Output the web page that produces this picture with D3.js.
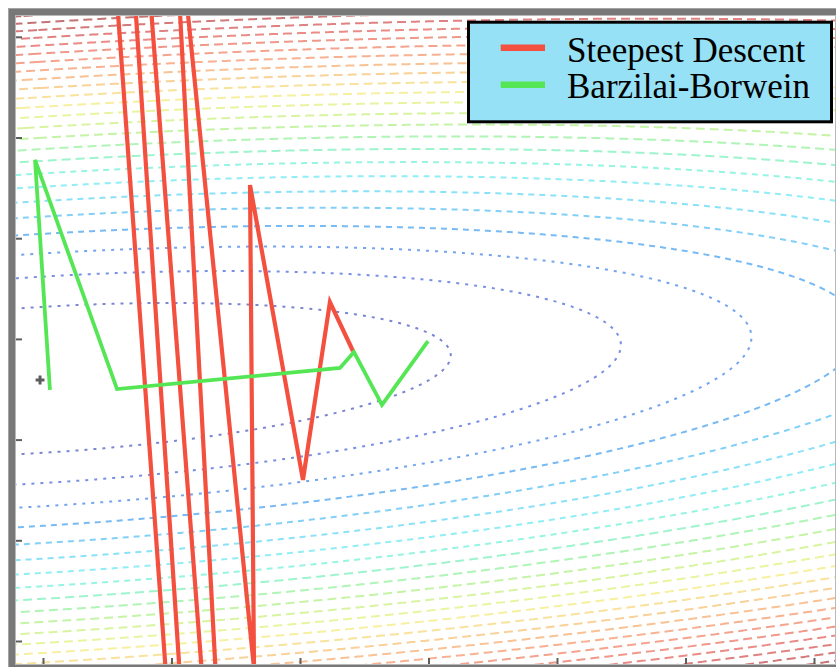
<!DOCTYPE html>
<html>
<head>
<meta charset="utf-8">
<script src="https://cdn.jsdelivr.net/npm/d3@7"></script>
<style>
  html, body { margin: 0; padding: 0; background: #fff; overflow: hidden; }
  svg { display: block; }
</style>
</head>
<body>
<svg id="chart" width="836" height="667"></svg>
<script>
// Objective: f(p) = 1/2 (p - p*)^T H (p - p*)
const minimizer = [-0.023, 2.592];
const hessianRow1 = [0.218, -0.291];
const hessianRow2 = [-0.291, 3.806];

// Level values of the drawn contours
const contourLevels = [1, 2, 3, 4, 5, 6, 7, 8, 9, 10, 11, 12, 13,
                       14, 15, 16, 17, 18, 19, 20, 21, 22, 23, 24, 25, 26];

// Axis tick values (no labels are printed)
const xTickValues = [0, 1, 2, 3, 4, 5, 6];
const yTickValues = [0, 1, 2, 3, 4, 5, 6];

// Iterates of the fixed-step steepest descent run
const steepestX = [2.412, 2.233, 2.023, 1.611, 1.642, 0.996, 1.603, -0.078, 2.241, -0.553];
const steepestY = [2.880, 3.366, 1.599, 4.528, -0.268, 7.895, -6.425, 21.599, -22.909, 26.226];

// Iterates of the Barzilai-Borwein run
const bbX = [2.996, 2.638, 2.420, 2.311, 0.576, -0.062, 0.054];
const bbY = [2.979, 2.344, 2.870, 2.711, 2.502, 4.777, 2.493];

const seriesNames = ["Steepest Descent", "Barzilai-Borwein"];

// ---------------------------------------------------------------------
const W = 836, H = 667;
const plot = { left: 16, top: 16, right: 835, bottom: 664 };

const x = d3.scaleLinear().domain([-0.2101, 6.1634]).range([plot.left, plot.right]);
const y = d3.scaleLinear().domain([-0.2284, 6.2066]).range([plot.bottom, plot.top]);

const svg = d3.select("#chart");

svg.append("defs").append("clipPath").attr("id", "plotClip")
  .append("rect")
  .attr("x", plot.left).attr("y", plot.top)
  .attr("width", plot.right - plot.left).attr("height", plot.bottom - plot.top);

svg.append("rect").attr("width", W).attr("height", H).attr("fill", "#fff");

// ---- contour field --------------------------------------------------
function objective(px, py) {
  const dx = px - minimizer[0], dy = py - minimizer[1];
  return 0.5 * (hessianRow1[0] * dx * dx + 2 * hessianRow1[1] * dx * dy + hessianRow2[1] * dy * dy);
}

const step = 2, margin = 8;
const gx0 = plot.left - margin, gy0 = plot.top - margin;
const nx = Math.ceil((plot.right - plot.left + 2 * margin) / step) + 1;
const ny = Math.ceil((plot.bottom - plot.top + 2 * margin) / step) + 1;
const grid = new Float64Array(nx * ny);
for (let j = 0; j < ny; j++) {
  const vy = y.invert(gy0 + j * step);
  for (let i = 0; i < nx; i++) {
    grid[i + j * nx] = objective(x.invert(gx0 + i * step), vy);
  }
}

const contourGen = d3.contours().size([nx, ny]).thresholds(contourLevels);
const gridToScreen = d3.geoTransform({
  point(gx, gy) {
    this.stream.point(gx0 + (gx - 0.5) * step, gy0 + (gy - 0.5) * step);
  }
});
const contourPath = d3.geoPath(gridToScreen);

const levelColor = d3.scaleLinear()
  .domain([1, 2, 3, 4, 5, 6, 7, 8, 9, 10, 11, 12, 13, 14, 15, 16, 17, 18, 19, 20, 21, 22, 23, 24, 25])
  .range(["#7a86d2", "#7890e4", "#74a4ee", "#78baf4", "#82d0f8", "#8ae2f8", "#90eef4",
          "#96f4e2", "#9ef4cc", "#b0f4b6", "#c4f4a6", "#d8f4a0", "#eaf4a0", "#f6f0a0",
          "#f8e29c", "#f8d298", "#f8c294", "#f8b292", "#f4a48e", "#f0988a", "#ea8c86",
          "#e08282", "#d47a7a", "#c47272", "#b86c6c"])
  .clamp(true);

// inner levels are dotted, outer ones broken into longer dashes
const dashFor = v => v <= 3 ? "3 6" : v <= 8 ? "6 5" : "9 5";

svg.append("g").attr("clip-path", "url(#plotClip)")
  .selectAll("path")
  .data(contourGen(grid))
  .join("path")
  .attr("d", contourPath)
  .attr("fill", "none")
  .attr("stroke", d => levelColor(d.value))
  .attr("stroke-width", 2)
  .attr("stroke-dasharray", d => dashFor(d.value));

// ---- optimisation paths ---------------------------------------------
const line = d3.line().x(d => x(d[0])).y(d => y(d[1]));
const steepestPts = steepestX.map((v, i) => [v, steepestY[i]]);
const bbPts = bbX.map((v, i) => [v, bbY[i]]);

const paths = svg.append("g").attr("clip-path", "url(#plotClip)");
paths.append("path")
  .attr("d", line(steepestPts))
  .attr("fill", "none")
  .attr("stroke", "#f4503f")
  .attr("stroke-width", 4.2)
  .attr("stroke-linejoin", "miter");
paths.append("path")
  .attr("d", line(bbPts))
  .attr("fill", "none")
  .attr("stroke", "#55e655")
  .attr("stroke-width", 3.8)
  .attr("stroke-linejoin", "miter");

// minimiser marker
paths.append("path")
  .attr("d", d3.symbol(d3.symbolCross, 44)())
  .attr("transform", `translate(${x(minimizer[0])},${y(minimizer[1])})`)
  .attr("fill", "#5c5c5c");

// ---- frame ----------------------------------------------------------
const band = 8;
svg.append("path")
  .attr("fill-rule", "evenodd")
  .attr("fill", "#787878")
  .attr("d",
    `M${plot.left - band},${plot.top - band}H${plot.right + band}V${plot.bottom + band}H${plot.left - band}Z` +
    `M${plot.left},${plot.top}H${plot.right}V${plot.bottom}H${plot.left}Z`);
svg.append("rect")
  .attr("x", plot.left - 0.5).attr("y", plot.top - 0.5)
  .attr("width", plot.right - plot.left + 1).attr("height", plot.bottom - plot.top + 1)
  .attr("fill", "none").attr("stroke", "#b8b8b8").attr("stroke-width", 1);
svg.append("rect")
  .attr("x", plot.left - band + 0.5).attr("y", plot.top - band + 0.5)
  .attr("width", plot.right - plot.left + 2 * band).attr("height", plot.bottom - plot.top + 2 * band)
  .attr("fill", "none").attr("stroke", "#a4a4a4").attr("stroke-width", 1);

// ---- ticks ----------------------------------------------------------
const xAxis = svg.append("g")
  .attr("transform", `translate(0,${plot.bottom})`)
  .call(d3.axisBottom(x).tickValues(xTickValues).tickSize(-6).tickFormat(""));
const yAxis = svg.append("g")
  .attr("transform", `translate(${plot.left},0)`)
  .call(d3.axisLeft(y).tickValues(yTickValues).tickSize(-6).tickFormat(""));
[xAxis, yAxis].forEach(a => {
  a.select(".domain").remove();
  a.selectAll(".tick line").attr("stroke", "#5e5e5e").attr("stroke-width", 2);
});

// ---- legend ---------------------------------------------------------
const legend = svg.append("g");
legend.append("rect")
  .attr("x", 468.5).attr("y", 22.2).attr("width", 363).attr("height", 99.6)
  .attr("fill", "#97e1f6").attr("stroke", "#000").attr("stroke-width", 3);

const legendColors = ["#f4503f", "#55e655"];
seriesNames.forEach((name, i) => {
  const cy = 47.7 + i * 37;
  legend.append("line")
    .attr("x1", 500.7).attr("x2", 545).attr("y1", cy).attr("y2", cy)
    .attr("stroke", legendColors[i]).attr("stroke-width", 6.6);
  legend.append("text")
    .attr("x", 567).attr("y", 61.7 + i * 36.6)
    .attr("font-family", "'Liberation Serif', 'Times New Roman', serif")
    .attr("font-size", 35)
    .attr("fill", "#000")
    .text(name);
});
</script>
</body>
</html>
